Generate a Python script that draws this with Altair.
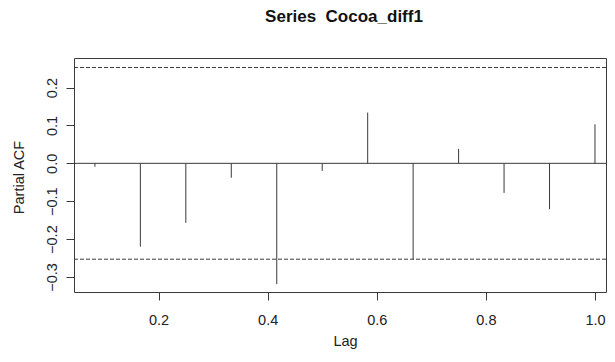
import altair as alt
import pandas as pd

lags = [1/12, 2/12, 3/12, 4/12, 5/12, 6/12, 7/12, 8/12, 9/12, 10/12, 11/12, 12/12]
pacf = [-0.009, -0.220, -0.157, -0.038, -0.319, -0.020, 0.134, -0.254, 0.038, -0.078, -0.121, 0.103]
conf = 0.253
x_ticks = [0.2, 0.4, 0.6, 0.8, 1.0]
y_ticks = [-0.3, -0.2, -0.1, 0.0, 0.1, 0.2]

FONT = "Liberation Sans"
INK = "#3a3a3a"
FS = 14.5

df = pd.DataFrame({"lag": lags, "pacf": pacf, "zero": [0.0] * len(lags)})
ci = pd.DataFrame({"y": [conf, -conf]})
zero = pd.DataFrame({"y": [0.0]})

xs = alt.Scale(domain=[0.045, 1.0202], nice=False, zero=False)
ys = alt.Scale(domain=[-0.3396, 0.278], nice=False, zero=False)

xaxis = alt.Axis(values=x_ticks, format=".1f", title="Lag", grid=False, domain=False,
                 tickSize=8, tickColor=INK, labelPadding=24, labelFontSize=FS,
                 labelBaseline="alphabetic",
                 labelFont=FONT, labelColor="#222", titleFont=FONT, titleFontSize=FS,
                 titleFontWeight="normal", titleColor="#222", titleBaseline="alphabetic",
                 titleX=271, titleY=53, titleAnchor="middle", titleAlign="center",
                 labelFlush=False)
yaxis = alt.Axis(values=y_ticks, format=".1f", title="Partial ACF", grid=False, domain=False,
                 tickSize=8, tickColor=INK, labelPadding=9.3, labelFontSize=FS,
                 labelAngle=-90, labelAlign="center", labelBaseline="alphabetic",
                 labelFont=FONT, labelColor="#222", titleFont=FONT, titleFontSize=FS,
                 titleFontWeight="normal", titleColor="#222", titleBaseline="alphabetic",
                 titleX=-51, titleY=119, titleAngle=-90, labelFlush=False)

bars = alt.Chart(df).mark_rule(color=INK, strokeWidth=1).encode(
    x=alt.X("lag:Q", scale=xs, axis=xaxis),
    y=alt.Y("pacf:Q", scale=ys, axis=yaxis),
    y2="zero:Q",
)

zline = alt.Chart(zero).mark_rule(color=INK, strokeWidth=1).encode(
    y=alt.Y("y:Q", scale=ys)
)

cil = alt.Chart(ci).mark_rule(color=INK, strokeWidth=1, strokeDash=[4, 2]).encode(
    y=alt.Y("y:Q", scale=ys)
)

chart = alt.layer(bars, zline, cil).properties(
    width=532,
    height=234,
    background="white",
    autosize=alt.AutoSizeParams(type="none"),
    padding={"left": 66, "top": 50, "right": 1, "bottom": 58},
    title=alt.TitleParams("Series\u00a0 Cocoa_diff1", font=FONT, fontSize=17, fontWeight="bold",
                          color="#111", anchor="start", align="center", dx=270,
                          baseline="alphabetic", frame="group", offset=19),
).configure_view(stroke=INK, strokeWidth=1)

chart.save("out.html", embed_options={"renderer": "svg", "actions": False})
